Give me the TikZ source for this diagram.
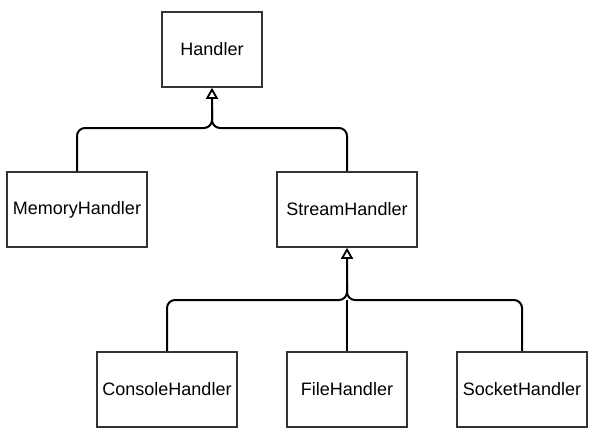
\documentclass[tikz,border=0pt]{standalone}
\usepackage{fontspec}
\setmainfont{Liberation Sans}
\usetikzlibrary{arrows.meta}
\definecolor{boxline}{HTML}{333333}
\begin{document}
\begin{tikzpicture}[
				x=1pt, y=-1pt,
				cls/.style={rectangle, draw=boxline, line width=1.6pt, minimum height=75pt, inner sep=0pt, font=\fontsize{18}{21}\selectfont},
				conn/.style={draw=black, line width=2pt, rounded corners=8pt},
				inherit/.style={-{Triangle[open, width=12pt, length=11pt, line width=1.8pt]}}
				]
			\useasboundingbox (0,0) rectangle (607,447);
			% classes
			\node [cls, minimum width=100pt] (handler) at (212,49.5) {Handler};
			\node [cls, minimum width=140pt] (memory) at (77,209.5) {MemoryHandler};
			\node [cls, minimum width=140pt] (stream) at (347,209.5) {StreamHandler};
			\node [cls, minimum width=140pt] (console) at (167,389.5) {ConsoleHandler};
			\node [cls, minimum width=120pt] (file) at (347,389.5) {FileHandler};
			\node [cls, minimum width=130pt] (socket) at (522,389.5) {SocketHandler};
			% junctions
			\coordinate (top) at (212,128);
			\coordinate (bottom) at (347,300);
			% inheritance
			\draw [conn, inherit] (memory.north) |- (top) -- (handler.south);
			\draw [conn] (stream.north) |- (top) -- (212,110);
			\draw [conn, inherit] (console.north) |- (bottom) -- (stream.south);
			\draw [conn] (socket.north) |- (bottom) -- (347,282);
			\draw [conn] (file.north) -- (bottom);
			\end{tikzpicture}
\end{document}
